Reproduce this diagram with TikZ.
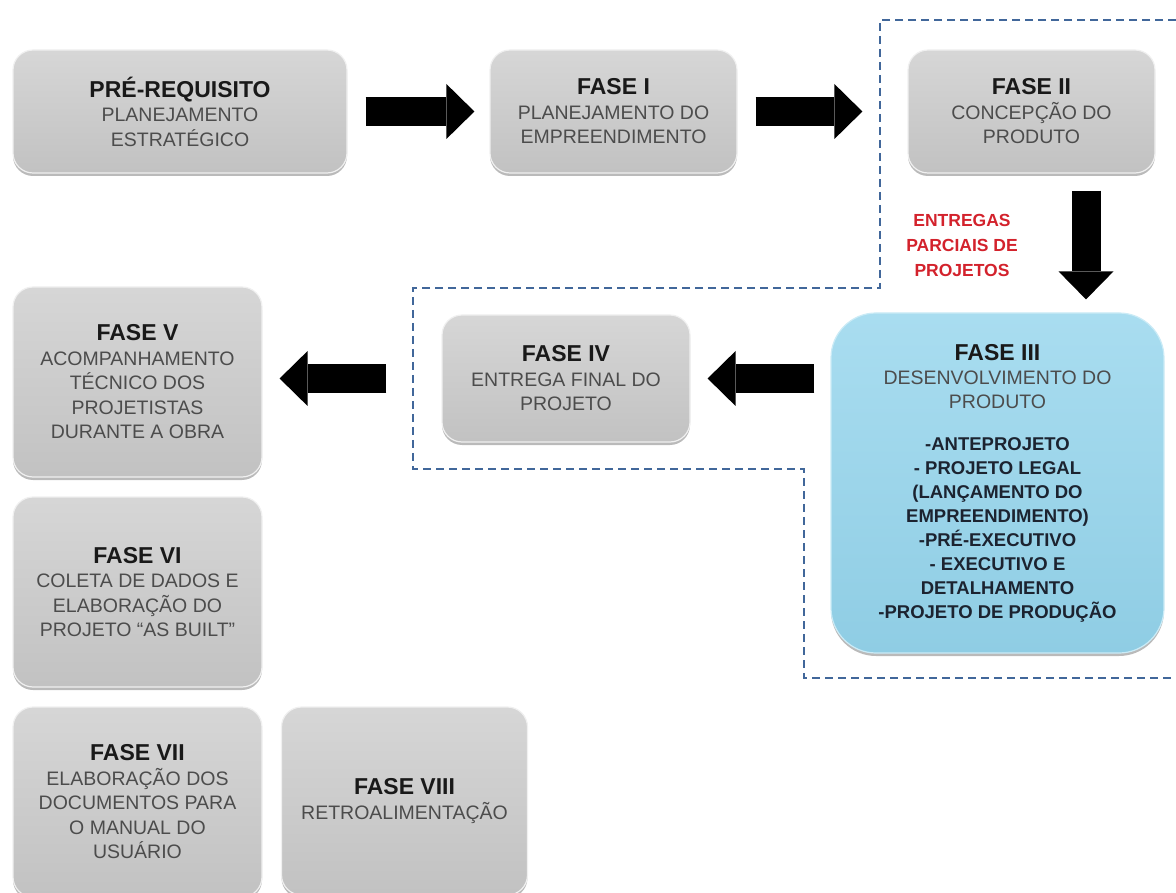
\documentclass[tikz,border=0pt]{standalone}
\usepackage{fontspec}
\setmainfont{Liberation Sans}
\usetikzlibrary{arrows.meta,shadows}
\definecolor{subgray}{HTML}{4C4C4C}
\definecolor{dashblue}{HTML}{41679A}
\definecolor{entred}{HTML}{D3222C}
\definecolor{bluetop}{HTML}{A9DDF0}
\definecolor{bluebot}{HTML}{8FCDE4}
\definecolor{listcol}{HTML}{1C2330}
\newcommand\ttl[1]{{\color{black!90}\fontsize{23}{25}\selectfont\bfseries #1}}
\newcommand\lst[1]{{\color{listcol}\fontsize{18.5}{24}\selectfont\bfseries #1}}
\tikzset{
  box/.style={rounded corners=20pt, draw=gray!12, line width=1.2pt,
    top color=gray!32, bottom color=gray!48, align=center, inner sep=2pt,
    font=\fontsize{19.5}{24.5}\selectfont, text=subgray,
    drop shadow={shadow xshift=0pt,shadow yshift=-3pt,opacity=.45,fill=gray!80!black}},
  bluebox/.style={box, rounded corners=45pt, top color=bluetop, bottom color=bluebot, draw=bluetop!60!white,
    font=\fontsize{19.5}{24}\selectfont},
  bigarr/.style={line width=29pt, -{Triangle[length=28pt,width=55pt,line width=0pt]}},
  dashb/.style={dashblue, line width=2.4pt, dash pattern=on 8pt off 5pt},
  redtxt/.style={text=entred, align=center, font=\fontsize{17.5}{25}\selectfont\bfseries}
}
\begin{document}
\begin{tikzpicture}[x=1pt,y=-1pt]
\useasboundingbox (0,0) rectangle (1176,893);
% dashed region
\draw[dashb] (1176,20) -- (880,20) -- (880,288) -- (413,288) -- (413,469) -- (804,469) -- (804,678) -- (1176,678);

\node[box, minimum width=334pt, minimum height=123pt] (pre) at (180,111.5)
  {\ttl{PRÉ-REQUISITO}\\PLANEJAMENTO\\ESTRATÉGICO};
\node[box, minimum width=247pt, minimum height=123pt] (f1) at (613.5,111.5)
  {\ttl{FASE I}\\PLANEJAMENTO DO\\EMPREENDIMENTO};
\node[box, minimum width=247pt, minimum height=123pt] (f2) at (1031.5,111.5)
  {\ttl{FASE II}\\CONCEPÇÃO DO\\PRODUTO};
\node[bluebox, minimum width=333pt, minimum height=340pt] (f3) at (997.5,483)
  {\ttl{FASE III}\\DESENVOLVIMENTO DO\\PRODUTO\\[18pt]
   \lst{-ANTEPROJETO}\\\lst{- PROJETO LEGAL}\\\lst{(LANÇAMENTO DO}\\\lst{EMPREENDIMENTO)}\\
   \lst{-PRÉ-EXECUTIVO}\\\lst{- EXECUTIVO E}\\\lst{DETALHAMENTO}\\\lst{-PROJETO DE PRODUÇÃO}};
\node[box, minimum width=248pt, minimum height=127pt] (f4) at (566,378.5)
  {\ttl{FASE IV}\\ENTREGA FINAL DO\\PROJETO};
\node[box, minimum width=249pt, minimum height=190pt] (f5) at (137.5,382)
  {\ttl{FASE V}\\ACOMPANHAMENTO\\TÉCNICO DOS\\PROJETISTAS\\DURANTE A OBRA};
\node[box, minimum width=249pt, minimum height=190pt] (f6) at (137.5,592)
  {\ttl{FASE VI}\\COLETA DE DADOS E\\ELABORAÇÃO DO\\PROJETO “AS BUILT”};
\node[box, minimum width=249pt, minimum height=190pt] (f7) at (137.5,802)
  {\ttl{FASE VII}\\ELABORAÇÃO DOS\\DOCUMENTOS PARA\\O MANUAL DO\\USUÁRIO};
\node[box, minimum width=246pt, minimum height=188pt] (f8) at (404.5,801)
  {\ttl{FASE VIII}\\RETROALIMENTAÇÃO};

\node[redtxt] (ent) at (962,245) {ENTREGAS\\PARCIAIS DE\\PROJETOS};

% arrows
\draw[bigarr, shorten <=18pt, shorten >=15pt] (pre.east) -- (f1.west);
\draw[bigarr, shorten <=18pt, shorten >=45pt] (f1.east) -- (f2.west);
\coordinate (dtop) at ([xshift=54.5pt]f2.south);
\coordinate (dbot) at (dtop |- f3.north);
\draw[bigarr, shorten <=17pt, shorten >=13pt] (dtop) -- (dbot);
\draw[bigarr, shorten <=16pt, shorten >=17pt] (f3.west |- f4.east) -- (f4.east);
\draw[bigarr, shorten <=55pt, shorten >=17pt] (f4.west) -- (f4.west -| f5.east);
\end{tikzpicture}
\end{document}
